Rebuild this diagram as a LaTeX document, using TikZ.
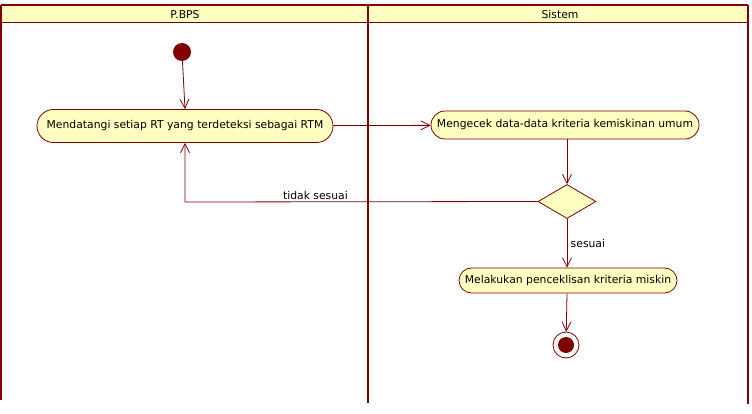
\documentclass[tikz,border=0pt]{standalone}
\usepackage{fontspec}
\setmainfont{DejaVu Sans}
\usepackage{xcolor}
\usetikzlibrary{arrows,arrows.meta,shapes}
\definecolor{umlred}{RGB}{128,0,0}
\definecolor{umlyellow}{RGB}{255,255,194}

\begin{document}
\begin{tikzpicture}[x=1pt,y=-1pt, >={Straight Barb[length=9pt,width=9pt]}, font=\fontsize{10.8}{12}\selectfont,
action/.style={rounded rectangle, draw=umlred, fill=umlyellow, line width=0.8pt, inner sep=0pt, minimum height=30pt},
start node/.style={circle, fill=umlred, minimum size=18pt, inner sep=0pt},
final node/.style={circle, draw=umlred, fill=white, line width=0.8pt, minimum size=26pt, inner sep=0pt},
choice/.style={diamond, draw=umlred, fill=umlyellow, line width=0.8pt, minimum width=58pt, minimum height=34pt, inner sep=0pt, aspect=1.7},
lane/.style={draw=umlred, line width=2pt},
flow/.style={->, draw=umlred, line width=0.8pt}]
\useasboundingbox (0,0) rectangle (752,414);
% swimlanes
\fill[umlyellow] (1,5) rectangle (748,22);
\draw[umlred, line width=0.8pt] (1,22) -- (748,22);
\draw[lane] (1,5) -- (748,5);
\draw[lane] (1,5) -- (1,400);
\draw[lane] (368,5) -- (368,403);
\draw[lane] (748,5) -- (748,404);
\node (3) at (185,14.5) {P.BPS};
\node (4) at (560,14.5) {Sistem};
% activity
\node[start node] (1) at (182,52) {};
\node[action, minimum width=296pt, minimum height=33pt] (2) at (185,126) {Mendatangi setiap RT yang terdeteksi sebagai RTM};
\node[action, minimum width=268pt, minimum height=28pt] (5) at (565,125) {Mengecek data-data kriteria kemiskinan umum};
\node[choice] (6) at (567,201.5) {};
\node[action, minimum width=218pt, minimum height=25pt] (7) at (568,280.5) {Melakukan penceklisan kriteria miskin};
\node[final node] (8) at (566,345) {};
\fill[umlred] (8) circle (8pt);
\draw[flow] (1) -- (2.north);
\draw[flow] (2) -- (5);
\draw[flow] (5.south -| 6.north) -- (6.north);
\draw[flow] (6.south) -- node[right, black] {sesuai} (7.north -| 6.south);
\draw[flow] (7.south -| 6.south) -- (8);
\draw[flow] (6.west) -- (185,202) node[pos=0.63, above=-2pt, black] {tidak sesuai} -- (2.south);
\end{tikzpicture}
\end{document}
